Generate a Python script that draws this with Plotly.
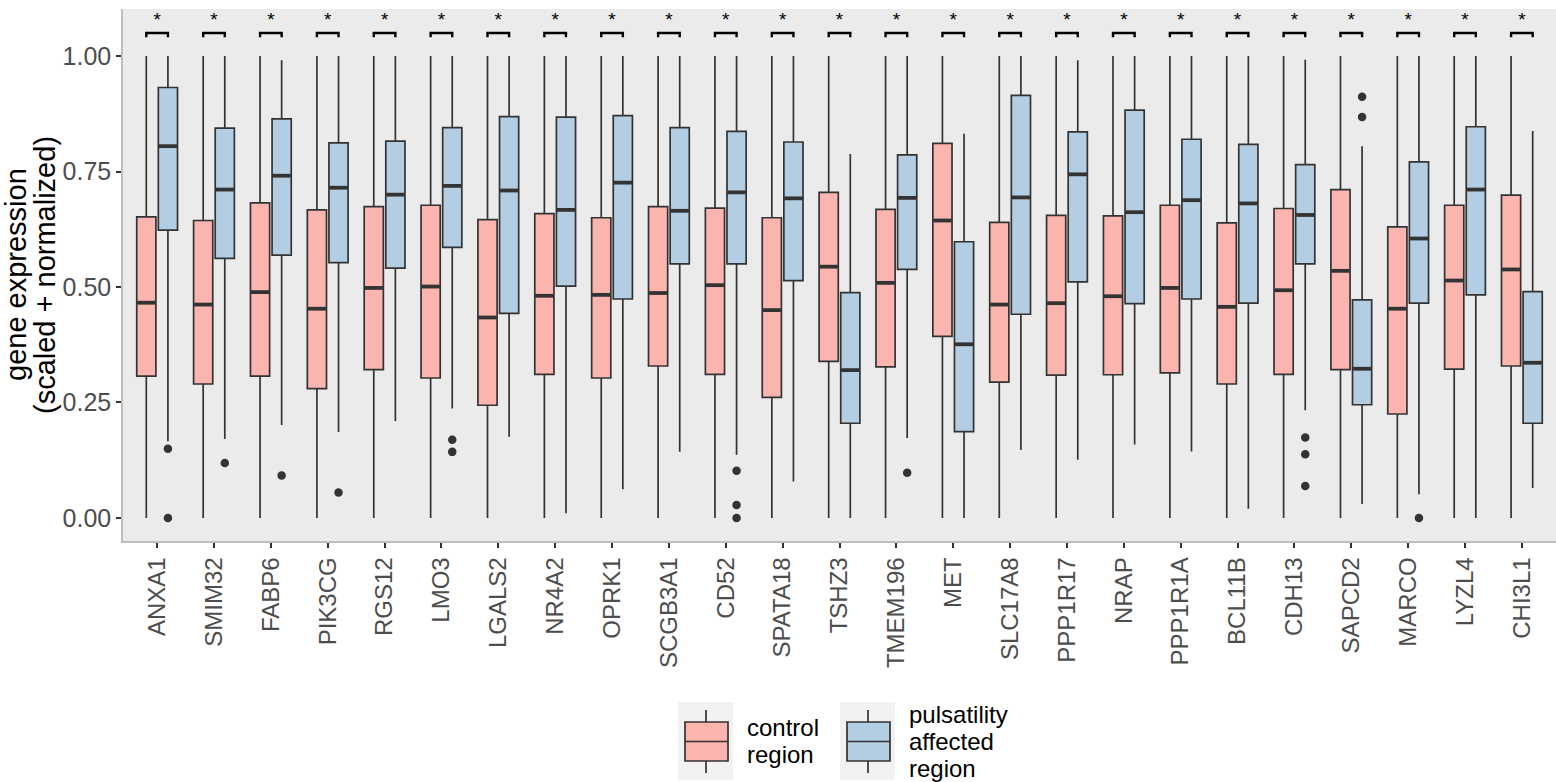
import plotly.graph_objects as go

genes = ["ANXA1", "SMIM32", "FABP6", "PIK3CG", "RGS12", "LMO3", "LGALS2", "NR4A2",
         "OPRK1", "SCGB3A1", "CD52", "SPATA18", "TSHZ3", "TMEM196", "MET", "SLC17A8",
         "PPP1R17", "NRAP", "PPP1R1A", "BCL11B", "CDH13", "SAPCD2", "MARCO", "LYZL4", "CHI3L1"]

# control region box statistics
ctrl_low = [0.0] * 25
ctrl_q1 = [0.307, 0.290, 0.307, 0.280, 0.321, 0.303, 0.244, 0.311, 0.303, 0.329, 0.311, 0.261, 0.339,
           0.327, 0.393, 0.294, 0.309, 0.310, 0.314, 0.290, 0.311, 0.321, 0.225, 0.322, 0.329]
ctrl_med = [0.466, 0.462, 0.489, 0.453, 0.498, 0.501, 0.434, 0.481, 0.483, 0.487, 0.504, 0.450, 0.544,
            0.509, 0.644, 0.462, 0.465, 0.480, 0.498, 0.457, 0.493, 0.535, 0.453, 0.514, 0.538]
ctrl_q3 = [0.652, 0.644, 0.682, 0.667, 0.674, 0.677, 0.646, 0.659, 0.650, 0.674, 0.671, 0.650, 0.705,
           0.668, 0.811, 0.640, 0.655, 0.654, 0.677, 0.639, 0.670, 0.711, 0.630, 0.677, 0.699]
ctrl_high = [1.0] * 25

# pulsatility affected region box statistics
puls_low = [0.166, 0.171, 0.201, 0.186, 0.210, 0.237, 0.176, 0.010, 0.062, 0.143, 0.137, 0.079, 0.0,
            0.173, 0.0, 0.147, 0.126, 0.159, 0.144, 0.020, 0.233, 0.030, 0.051, 0.0, 0.065]
puls_q1 = [0.623, 0.562, 0.569, 0.553, 0.541, 0.586, 0.443, 0.502, 0.474, 0.550, 0.550, 0.514, 0.205,
           0.538, 0.187, 0.441, 0.511, 0.464, 0.474, 0.465, 0.550, 0.245, 0.465, 0.483, 0.205]
puls_med = [0.805, 0.711, 0.741, 0.715, 0.700, 0.719, 0.709, 0.667, 0.726, 0.665, 0.705, 0.692, 0.320,
            0.693, 0.376, 0.694, 0.744, 0.662, 0.688, 0.681, 0.656, 0.323, 0.605, 0.711, 0.336]
puls_q3 = [0.932, 0.844, 0.864, 0.812, 0.816, 0.845, 0.869, 0.868, 0.871, 0.845, 0.837, 0.814, 0.488,
           0.786, 0.598, 0.915, 0.836, 0.883, 0.820, 0.809, 0.765, 0.472, 0.771, 0.847, 0.490]
puls_high = [1.0, 1.0, 0.991, 1.0, 1.0, 1.0, 1.0, 1.0, 1.0, 1.0, 1.0, 1.0, 0.788,
             1.0, 0.832, 1.0, 0.991, 1.0, 1.0, 1.0, 0.992, 0.805, 1.0, 1.0, 0.838]

# outliers (pulsatility affected region): gene index, value
puls_out_gene = [0, 0, 1, 2, 3, 5, 5, 10, 10, 10, 13, 20, 20, 20, 21, 21, 22]
puls_out_val = [0.150, 0.0, 0.119, 0.092, 0.055, 0.169, 0.143, 0.102, 0.028, 0.0, 0.098,
                0.174, 0.138, 0.069, 0.912, 0.868, 0.0]

signif = ["*"] * 25
legend_labels = [["control", "region"], ["pulsatility", "affected", "region"]]

OFF = 0.19
BW = 0.337
LINE = "#333333"
CTRL_FILL = "#FBB4AE"
PULS_FILL = "#B3CDE3"
FONT = "Liberation Sans, Arial, sans-serif"

W, H = 1556, 782
ML, MR, MT, MB = 123, 0, 9, 241
PW, PH = W - ML - MR, H - MT - MB


def px2x(px):
    return (px - ML) / PW


def px2y(py):
    return (H - MB - py) / PH


idx = list(range(len(genes)))
xc = [i - OFF for i in idx]
xp = [i + OFF for i in idx]

fig = go.Figure()

fig.add_trace(go.Box(
    name="control region", x=xc, q1=ctrl_q1, median=ctrl_med, q3=ctrl_q3,
    lowerfence=ctrl_low, upperfence=ctrl_high, width=BW, whiskerwidth=0,
    fillcolor=CTRL_FILL, line=dict(color=LINE, width=1.7), boxpoints=False,
    hoverinfo="skip", showlegend=False))
fig.add_trace(go.Box(
    name="pulsatility affected region", x=xp, q1=puls_q1, median=puls_med, q3=puls_q3,
    lowerfence=puls_low, upperfence=puls_high, width=BW, whiskerwidth=0,
    fillcolor=PULS_FILL, line=dict(color=LINE, width=1.7), boxpoints=False,
    hoverinfo="skip", showlegend=False))

# thicker median lines
mx, my = [], []
for centers, meds in ((xc, ctrl_med), (xp, puls_med)):
    for c, m in zip(centers, meds):
        mx += [c - BW / 2 + 0.01, c + BW / 2 - 0.01, None]
        my += [m, m, None]
fig.add_trace(go.Scatter(x=mx, y=my, mode="lines", line=dict(color=LINE, width=3.8),
                         showlegend=False, hoverinfo="skip"))

# outliers
fig.add_trace(go.Scatter(x=[g + OFF for g in puls_out_gene], y=puls_out_val, mode="markers",
                         marker=dict(color=LINE, size=8.5), showlegend=False, hoverinfo="skip"))

# significance brackets
BR_TOP, BR_BOT, STAR_Y = 1.050, 1.041, 1.076
bx, by = [], []
for i in idx:
    bx += [i - OFF, i - OFF, i + OFF, i + OFF, None]
    by += [BR_BOT, BR_TOP, BR_TOP, BR_BOT, None]
fig.add_trace(go.Scatter(x=bx, y=by, mode="lines", line=dict(color="black", width=2.4),
                         showlegend=False, hoverinfo="skip"))
fig.add_trace(go.Scatter(x=idx, y=[STAR_Y] * len(idx), mode="text", text=signif,
                         textfont=dict(family=FONT, size=19, color="black"),
                         showlegend=False, hoverinfo="skip"))

# custom ggplot-like legend
shapes = []
annotations = []
key_lefts = [678, 840]
text_lefts = [745, 907]
fills = [CTRL_FILL, PULS_FILL]
line_centers = [[727, 754], [714, 741, 768]]
for k in range(2):
    L = key_lefts[k]
    shapes.append(dict(type="rect", xref="paper", yref="paper", x0=px2x(L), x1=px2x(L + 55),
                       y0=px2y(780), y1=px2y(702), fillcolor="#F2F2F2", line=dict(width=0), layer="above"))
    cx = L + 28
    shapes.append(dict(type="line", xref="paper", yref="paper", x0=px2x(cx), x1=px2x(cx),
                       y0=px2y(722), y1=px2y(710), line=dict(color=LINE, width=1.7), layer="above"))
    shapes.append(dict(type="line", xref="paper", yref="paper", x0=px2x(cx), x1=px2x(cx),
                       y0=px2y(773), y1=px2y(761), line=dict(color=LINE, width=1.7), layer="above"))
    shapes.append(dict(type="rect", xref="paper", yref="paper", x0=px2x(L + 7), x1=px2x(L + 50),
                       y0=px2y(761), y1=px2y(722), fillcolor=fills[k], line=dict(color=LINE, width=1.7),
                       layer="above"))
    shapes.append(dict(type="line", xref="paper", yref="paper", x0=px2x(L + 7), x1=px2x(L + 50),
                       y0=px2y(741.5), y1=px2y(741.5), line=dict(color=LINE, width=1.7), layer="above"))
    for txt, yc in zip(legend_labels[k], line_centers[k]):
        annotations.append(dict(text=txt, xref="paper", yref="paper", x=px2x(text_lefts[k]), y=px2y(yc),
                                xanchor="left", yanchor="middle", showarrow=False,
                                font=dict(family=FONT, size=24, color="black")))

# y-axis title (two lines)
for txt, xcen in (("gene expression", 16), ("(scaled + normalized)", 45)):
    annotations.append(dict(text=txt, xref="paper", yref="paper", x=px2x(xcen), y=px2y(275),
                            xanchor="center", yanchor="middle", textangle=-90, showarrow=False,
                            font=dict(family=FONT, size=29, color="black")))

fig.update_layout(
    width=W, height=H,
    margin=dict(l=ML, r=MR, t=MT, b=MB, autoexpand=False),
    paper_bgcolor="white", plot_bgcolor="#EBEBEB",
    font=dict(family=FONT, color="black"),
    boxmode="overlay",
    showlegend=False,
    shapes=shapes,
    annotations=annotations,
)
fig.update_xaxes(range=[-0.6, 24.6], tickmode="array", tickvals=idx, ticktext=genes,
                 tickangle=-90, tickfont=dict(family=FONT, size=24, color="#4D4D4D"), automargin=False,
                 showgrid=False, zeroline=False, showline=True, linecolor="#BEBEBE", linewidth=1.5,
                 ticks="outside", ticklen=5, tickcolor="#333333", tickwidth=1.5)
fig.update_yaxes(range=[-0.05, 1.102], tickmode="array", tickvals=[0, 0.25, 0.5, 0.75, 1.0],
                 ticktext=["0.00", "0.25", "0.50", "0.75", "1.00"], automargin=False,
                 tickfont=dict(family=FONT, size=25, color="#4D4D4D"),
                 showgrid=False, zeroline=False, showline=True, linecolor="#BEBEBE", linewidth=1.5,
                 ticks="outside", ticklen=5, tickcolor="#333333", tickwidth=1.5)

fig.write_html("out.html", config={"displayModeBar": False},
               post_script="document.body.style.margin='0';document.body.style.overflow='hidden';")
